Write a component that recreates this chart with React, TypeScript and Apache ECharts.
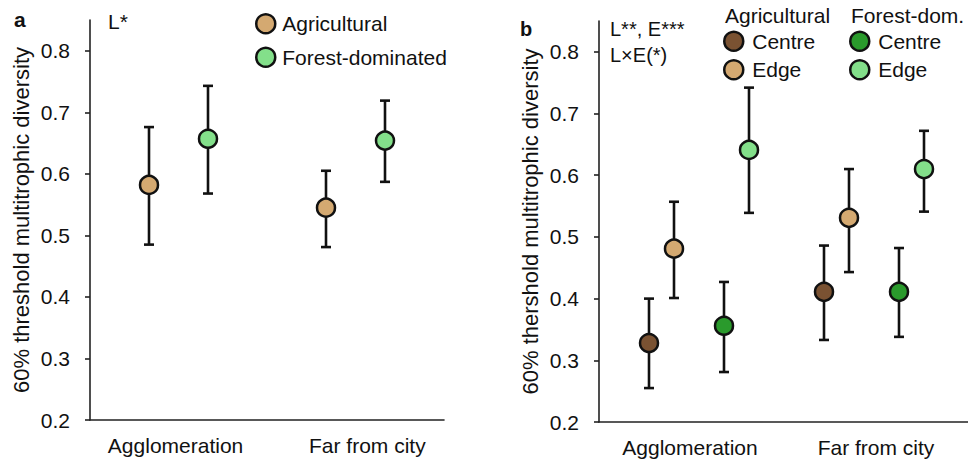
import React, { useEffect, useRef } from "react";
import * as echarts from "echarts";

// ---------- data ----------
const categories = ["Agglomeration", "Far from city"];
const yTicks = [0.2, 0.3, 0.4, 0.5, 0.6, 0.7, 0.8];

// Panel a
const aAgriMean = [0.582, 0.545];
const aAgriLow = [0.485, 0.481];
const aAgriHigh = [0.676, 0.605];
const aForestMean = [0.657, 0.654];
const aForestLow = [0.568, 0.587];
const aForestHigh = [0.743, 0.719];

// Panel b
const bAgriCentreMean = [0.328, 0.411];
const bAgriCentreLow = [0.255, 0.333];
const bAgriCentreHigh = [0.4, 0.486];
const bAgriEdgeMean = [0.481, 0.531];
const bAgriEdgeLow = [0.401, 0.443];
const bAgriEdgeHigh = [0.557, 0.61];
const bForestCentreMean = [0.356, 0.411];
const bForestCentreLow = [0.281, 0.338];
const bForestCentreHigh = [0.427, 0.482];
const bForestEdgeMean = [0.641, 0.61];
const bForestEdgeLow = [0.539, 0.541];
const bForestEdgeHigh = [0.742, 0.672];

// ---------- style ----------
const FONT = "'Liberation Sans', Arial, Helvetica, sans-serif";
const INK = "#111";
const AXIS = "#222";
const C_AGRI_EDGE = "#d4a971";
const C_FOREST_EDGE = "#83df8a";
const C_AGRI_CENTRE = "#7a5232";
const C_FOREST_CENTRE = "#2a9a2c";

// layout of groups along x (data units of value axes)
const aGroupBase = [1, 4];
const aLabelPos = [1.45, 4.7];
const bGroupBase = [2, 9];
const bLabelPos = [3.64, 11.08];

function pts(base: number[], off: number, mean: number[]) {
  return mean.map((m, i) => [base[i] + off, m]);
}
function errs(base: number[], off: number, low: number[], high: number[]) {
  return low.map((l, i) => [base[i] + off, l, high[i]]);
}

const errRender = (params: any, api: any) => {
  const x = api.value(0);
  const lo = api.coord([x, api.value(1)]);
  const hi = api.coord([x, api.value(2)]);
  const cap = 5;
  const st = { stroke: INK, lineWidth: 2.6 };
  return {
    type: "group",
    children: [
      { type: "line", shape: { x1: lo[0], y1: lo[1], x2: hi[0], y2: hi[1] }, style: st },
      { type: "line", shape: { x1: lo[0] - cap, y1: lo[1], x2: lo[0] + cap, y2: lo[1] }, style: st },
      { type: "line", shape: { x1: hi[0] - cap, y1: hi[1], x2: hi[0] + cap, y2: hi[1] }, style: st },
    ],
  };
};

function errSeries(idx: number, data: number[][]) {
  return {
    type: "custom",
    xAxisIndex: idx,
    yAxisIndex: idx,
    renderItem: errRender,
    encode: { x: 0, y: [1, 2] },
    data,
    z: 1,
    silent: true,
  };
}

function ptSeries(idx: number, name: string, color: string, data: number[][]) {
  return {
    type: "scatter",
    name,
    xAxisIndex: idx,
    yAxisIndex: idx,
    symbol: "circle",
    symbolSize: 18,
    itemStyle: { color, borderColor: INK, borderWidth: 2.5, opacity: 1 },
    data,
    z: 3,
  };
}

function yAxis(idx: number, name: string) {
  return {
    gridIndex: idx,
    type: "value",
    min: 0.2,
    max: 0.85,
    name,
    nameLocation: "middle",
    nameGap: 58,
    nameTextStyle: { fontSize: 22, color: INK, fontFamily: FONT },
    axisLine: { show: true, lineStyle: { color: AXIS, width: 1.6 } },
    axisTick: { show: true, length: 5, customValues: yTicks, lineStyle: { color: AXIS, width: 1.6 } },
    axisLabel: {
      customValues: yTicks,
      formatter: (v: number) => v.toFixed(1),
      margin: 20,
      fontSize: 21,
      color: INK,
      fontFamily: FONT,
    },
    splitLine: { show: false },
  };
}

function xAxis(idx: number, max: number, labelPos: number[]) {
  return {
    gridIndex: idx,
    type: "value",
    min: 0,
    max,
    axisLine: { show: true, onZero: false, lineStyle: { color: AXIS, width: 1.6 } },
    axisTick: { show: false },
    axisLabel: {
      customValues: labelPos,
      formatter: (v: number) => {
        let best = 0;
        labelPos.forEach((p, i) => {
          if (Math.abs(p - v) < Math.abs(labelPos[best] - v)) best = i;
        });
        return categories[best];
      },
      margin: 15,
      fontSize: 21,
      color: INK,
      fontFamily: FONT,
    },
    splitLine: { show: false },
  };
}

function txt(x: number, y: number, text: string, size: number, bold = false) {
  return {
    type: "text",
    x,
    y,
    style: {
      text,
      fontSize: size,
      fontFamily: FONT,
      fontWeight: bold ? "bold" : "normal",
      fill: INK,
      verticalAlign: "middle",
      align: "left",
    },
  };
}

export default function App() {
  const ref = useRef<HTMLDivElement>(null);
  useEffect(() => {
    if (!ref.current) return;
    const chart = echarts.init(ref.current, undefined, { renderer: "svg" });
    const legendBase = {
      orient: "vertical",
      padding: 0,
      itemWidth: 19,
      itemHeight: 19,
      icon: "circle",
      itemStyle: { borderColor: INK, borderWidth: 2.5 },
      selectedMode: false,
    };
    chart.setOption({
      animation: false,
      backgroundColor: "#fff",
      grid: [
        { left: 90, top: 20, width: 354, height: 400 },
        { left: 599, top: 21, width: 369, height: 401 },
      ],
      xAxis: [xAxis(0, 6, aLabelPos), xAxis(1, 14.76, bLabelPos)],
      yAxis: [
        yAxis(0, "60% threshold multitrophic diversity"),
        yAxis(1, "60% thershold multitrophic diversity"),
      ],
      legend: [
        {
          ...legendBase,
          left: 255,
          top: 13,
          itemGap: 12,
          textStyle: { fontSize: 21, color: INK, fontFamily: FONT, lineHeight: 19, padding: [0, 0, 0, 2] },
          data: ["Agricultural", "Forest-dominated"],
        },
        {
          ...legendBase,
          left: 723,
          top: 30.5,
          itemGap: 7,
          textStyle: { fontSize: 21, color: INK, fontFamily: FONT, lineHeight: 19, padding: [0, 0, 0, 4] },
          data: ["Agricultural Centre", "Agricultural Edge"],
          formatter: (n: string) => n.split(" ").pop(),
        },
        {
          ...legendBase,
          left: 849,
          top: 30.5,
          itemGap: 7,
          textStyle: { fontSize: 21, color: INK, fontFamily: FONT, lineHeight: 19, padding: [0, 0, 0, 4] },
          data: ["Forest-dom. Centre", "Forest-dom. Edge"],
          formatter: (n: string) => n.split(" ").pop(),
        },
      ],
      graphic: [
        txt(14, 19, "a", 21, true),
        txt(520, 29, "b", 20, true),
        txt(108, 21, "L*", 21),
        txt(610, 29, "L**, E***", 20),
        txt(610, 55, "L×E(*)", 20),
        txt(725, 15, "Agricultural", 21),
        txt(851, 15, "Forest-dom.", 21),
      ],
      series: [
        errSeries(0, errs(aGroupBase, 0, aAgriLow, aAgriHigh)),
        errSeries(0, errs(aGroupBase, 1, aForestLow, aForestHigh)),
        ptSeries(0, "Agricultural", C_AGRI_EDGE, pts(aGroupBase, 0, aAgriMean)),
        ptSeries(0, "Forest-dominated", C_FOREST_EDGE, pts(aGroupBase, 1, aForestMean)),

        errSeries(1, errs(bGroupBase, 0, bAgriCentreLow, bAgriCentreHigh)),
        errSeries(1, errs(bGroupBase, 1, bAgriEdgeLow, bAgriEdgeHigh)),
        errSeries(1, errs(bGroupBase, 3, bForestCentreLow, bForestCentreHigh)),
        errSeries(1, errs(bGroupBase, 4, bForestEdgeLow, bForestEdgeHigh)),
        ptSeries(1, "Agricultural Centre", C_AGRI_CENTRE, pts(bGroupBase, 0, bAgriCentreMean)),
        ptSeries(1, "Agricultural Edge", C_AGRI_EDGE, pts(bGroupBase, 1, bAgriEdgeMean)),
        ptSeries(1, "Forest-dom. Centre", C_FOREST_CENTRE, pts(bGroupBase, 3, bForestCentreMean)),
        ptSeries(1, "Forest-dom. Edge", C_FOREST_EDGE, pts(bGroupBase, 4, bForestEdgeMean)),
      ],
    });
    return () => chart.dispose();
  }, []);
  return (
    <div
      ref={ref}
      style={{ position: "fixed", left: 0, top: 0, width: 968, height: 461, background: "#fff" }}
    />
  );
}
